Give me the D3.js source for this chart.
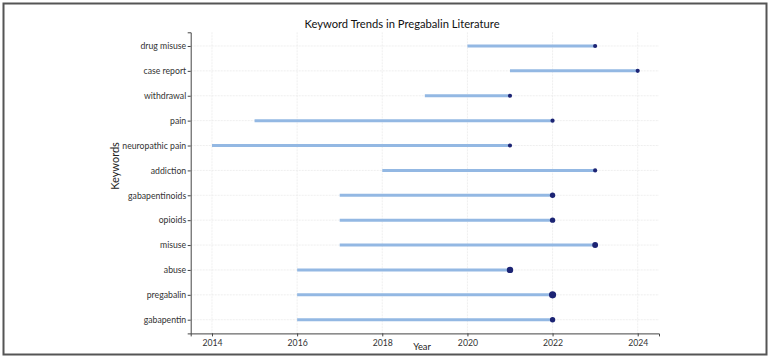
<!DOCTYPE html>
<html><head><meta charset="utf-8">
<script src="https://cdn.jsdelivr.net/npm/d3@7"></script>
<style>body{margin:0;background:#fff;} text{font-family:Lato,"DejaVu Sans",sans-serif;}</style>
</head><body><svg id="c" width="771" height="360"></svg>
<script>
const keywords = ["gabapentin","pregabalin","abuse","misuse","opioids","gabapentinoids","addiction","neuropathic pain","pain","withdrawal","case report","drug misuse"];
const startYears = [2016,2016,2016,2017,2017,2017,2018,2014,2015,2019,2021,2020];
const endYears   = [2022,2022,2021,2023,2022,2022,2023,2021,2022,2021,2024,2023];
const counts     = [5,9,7,6,5,5,3,3,3,3,3,3];
const xTicks = [2014,2016,2018,2020,2022,2024];

const svg = d3.select("#c");
svg.append("rect").attr("x",3.5).attr("y",3.5).attr("width",763).attr("height",351)
  .attr("fill","#fff").attr("stroke","#555").attr("stroke-width",2);

const L=190.7,R=659,T=32.3,B=333.4;
const x = d3.scaleLinear().domain([2013.5,2024.5]).range([L,R]);
const y = d3.scaleLinear().domain([-0.55,keywords.length-1+0.55]).range([B,T]);
const r = d3.scaleSqrt().domain([0,9]).range([0,3.6]);

const g = svg.append("g");
g.selectAll(".vg").data(xTicks).join("line").attr("x1",d=>x(d)).attr("x2",d=>x(d)).attr("y1",T).attr("y2",B)
  .attr("stroke","#e8e8e8").attr("stroke-width",0.7).attr("stroke-dasharray","2,1");
g.selectAll(".hg").data(keywords).join("line").attr("x1",L).attr("x2",R).attr("y1",(d,i)=>y(i)).attr("y2",(d,i)=>y(i))
  .attr("stroke","#e8e8e8").attr("stroke-width",0.7).attr("stroke-dasharray","2,1");

g.selectAll(".seg").data(keywords).join("line")
  .attr("x1",(d,i)=>x(startYears[i])).attr("x2",(d,i)=>x(endYears[i]))
  .attr("y1",(d,i)=>y(i)).attr("y2",(d,i)=>y(i))
  .attr("stroke","#93b8e3").attr("stroke-width",3);
g.selectAll(".dot").data(keywords).join("circle")
  .attr("cx",(d,i)=>x(endYears[i])).attr("cy",(d,i)=>y(i)).attr("r",(d,i)=>r(counts[i]))
  .attr("fill","#1c2474");

const xa = svg.append("g").attr("transform",`translate(0,${B})`)
  .call(d3.axisBottom(x).tickValues(xTicks).tickFormat(d3.format("d")).tickSize(3).tickPadding(3));
const ya = svg.append("g").attr("transform",`translate(${L},0)`)
  .call(d3.axisLeft(y).tickValues(d3.range(keywords.length)).tickFormat(i=>keywords[i]).tickSize(3).tickPadding(1.5));
[xa,ya].forEach(a=>{
  a.select(".domain").attr("stroke","#444").attr("stroke-width",1);
  a.selectAll(".tick line").attr("stroke","#444");
  a.selectAll(".tick text").attr("fill","#333").style("font-size","8.7px").style("font-family","Lato, sans-serif");
});
svg.append("text").attr("x",402).attr("y",28).attr("text-anchor","middle")
  .style("font-size","11.2px").attr("fill","#111").text("Keyword Trends in Pregabalin Literature");
svg.append("text").attr("x",422).attr("y",350).attr("text-anchor","middle")
  .style("font-size","9.3px").attr("fill","#222").text("Year");
svg.append("text").attr("transform",`translate(119,166) rotate(-90)`).attr("text-anchor","middle")
  .style("font-size","11px").attr("fill","#222").text("Keywords");
</script></body></html>
